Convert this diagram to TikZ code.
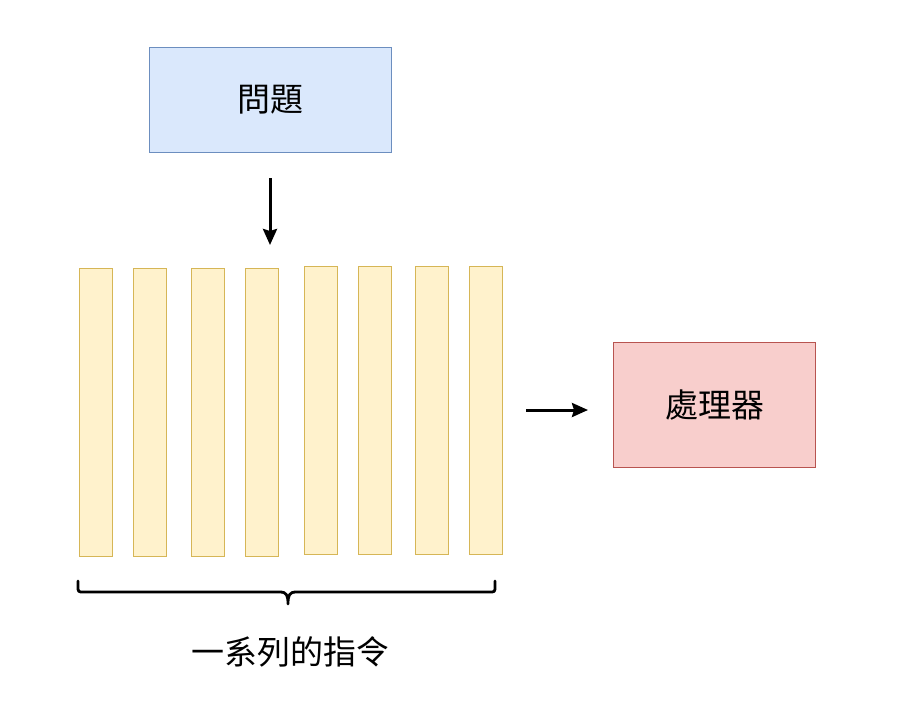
\documentclass[tikz,border=0pt]{standalone}
\usepackage{fontspec}
\newfontfamily\cjk{Noto Sans CJK TC}
\usetikzlibrary{arrows.meta}
\definecolor{bluefill}{HTML}{DAE8FC}
\definecolor{bluedraw}{HTML}{6C8EBF}
\definecolor{yelfill}{HTML}{FFF2CC}
\definecolor{yeldraw}{HTML}{D6B656}
\definecolor{redfill}{HTML}{F8CECC}
\definecolor{reddraw}{HTML}{B85450}
\tikzset{
  box/.style={draw, line width=1pt, inner sep=0pt, anchor=north west, font=\cjk\fontsize{33}{40}\selectfont},
  bluebox/.style={box, fill=bluefill, draw=bluedraw},
  redbox/.style={box, fill=redfill, draw=reddraw},
  bar/.style={draw=yeldraw, fill=yelfill, line width=1pt, inner sep=0pt, anchor=north west, minimum width=33pt},
  arr/.style={line width=3pt, -{Stealth[length=16pt, width=14pt, inset=2pt]}},
  lbl/.style={font=\cjk\fontsize{33}{40}\selectfont, inner sep=0pt},
}
\begin{document}
\begin{tikzpicture}[x=1pt, y=-1pt]
\useasboundingbox (0,0) rectangle (908,704);
\node[bluebox, minimum width=242pt, minimum height=105pt] (q) at (149,47) {問題};
\node[redbox, minimum width=202pt, minimum height=125pt] (p) at (613,342) {處理器};
\node[bar, minimum height=288pt] (b1) at (79.3,268.3) {};
\node[bar, minimum height=288pt] (b2) at (133.3,268.3) {};
\node[bar, minimum height=288pt] (b3) at (191,268.3) {};
\node[bar, minimum height=288pt] (b4) at (245,268.3) {};
\node[bar, minimum height=288.5pt] (b5) at (303.7,265.7) {};
\node[bar, minimum height=288.5pt] (b6) at (357.7,265.7) {};
\node[bar, minimum height=288.5pt] (b7) at (415.3,265.7) {};
\node[bar, minimum height=288.5pt] (b8) at (469.3,265.7) {};
\coordinate (dtip) at (270,245);
\coordinate (rstart) at (526,410);
\path (q.south -| dtip) ++(0,25) coordinate (dstart);
\draw[arr] (dstart) -- (dtip);
\draw[arr, shorten >=25pt] (rstart) -- (rstart -| p.west);
\coordinate (bl) at (78,581);
\coordinate (br) at (495,581);
\coordinate (bm) at (288,604);
\draw[line width=2.8pt, line cap=round, line join=round]
  (bl) -- (78,586) .. controls (78,592) .. (84,592) -- (280,592)
  .. controls (287,592) and (288,596) .. (bm)
  .. controls (288,596) and (289,592) .. (296,592) -- (489,592)
  .. controls (495,592) .. (495,586) -- (br);
\node[lbl] (t) at (290,652) {一系列的指令};
\end{tikzpicture}
\end{document}
